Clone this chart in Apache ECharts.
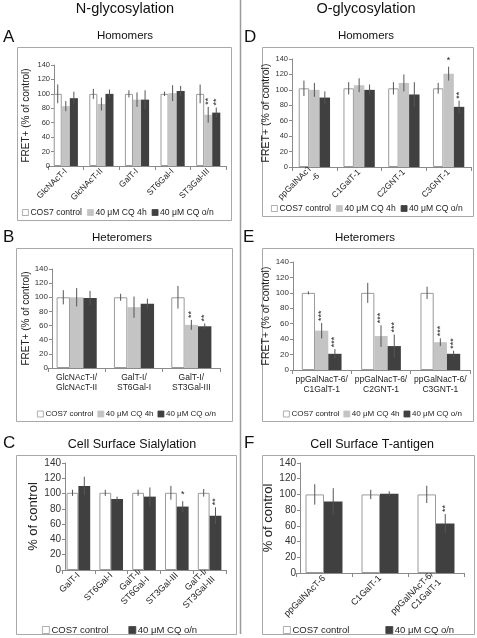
<!DOCTYPE html>
<html><head><meta charset="utf-8">
<script src="https://cdn.jsdelivr.net/npm/echarts@6/dist/echarts.min.js"></script>
<style>html,body{margin:0;padding:0;background:#fff}#c{width:477px;height:638px}</style>
</head><body><div id="c"></div>
<script>
// ---------- DATA ----------
const yTicks = [0, 20, 40, 60, 80, 100, 120, 140];
const seriesNames = ['COS7 control', '40 μM CQ 4h', '40 μM CQ o/n'];

// Panel A: N-glycosylation homomers
const catsA = ['GlcNAcT-I', 'GlcNAcT-II', 'GalT-I', 'ST6Gal-I', 'ST3Gal-III'];
const ctrlA = [100, 100, 100, 100, 100];
const ctrlErrA = [13, 7, 5, 3, 13];
const h4A = [83, 86, 92, 101, 71];
const h4ErrA = [7, 9, 10, 11, 11];
const onA = [94, 100, 92, 104, 74];
const onErrA = [9, 6, 13, 7, 7];
const h4StarA = ['', '', '', '', '**'];
const onStarA = ['', '', '', '', '**'];

// Panel D: O-glycosylation homomers
const catsD = ['ppGalNAcT\n-6', 'C1GalT-1', 'C2GNT-1', 'C3GNT-1'];
const ctrlD = [102, 102, 102, 102];
const ctrlErrD = [10, 8, 8, 7];
const h4D = [100, 106, 109, 121];
const h4ErrD = [9, 9, 11, 9];
const onD = [90, 100, 94, 78];
const onErrD = [8, 7, 16, 8];
const h4StarD = ['', '', '', '*'];
const onStarD = ['', '', '', '**'];

// Panel B: N-glycosylation heteromers
const catsB = ['GlcNAcT-I/\nGlcNAcT-II', 'GalT-I/\nST6Gal-I', 'GalT-I/\nST3Gal-III'];
const ctrlB = [100, 100, 100];
const ctrlErrB = [10, 5, 16];
const h4B = [100, 86, 61];
const h4ErrB = [13, 15, 7];
const onB = [99, 91, 59];
const onErrB = [10, 7, 4];
const h4StarB = ['', '', '**'];
const onStarB = ['', '', '**'];

// Panel E: O-glycosylation heteromers
const catsE = ['ppGalNacT-6/\nC1GalT-1', 'ppGalNacT-6/\nC2GNT-1', 'ppGalNacT-6/\nC3GNT-1'];
const ctrlE = [100, 100, 100];
const ctrlErrE = [2, 13, 8];
const h4E = [51, 44, 36];
const h4ErrE = [10, 14, 5];
const onE = [21, 31, 21];
const onErrE = [6, 15, 4];
const h4StarE = ['***', '***', '***'];
const onStarE = ['***', '***', '***'];

// Panel C: Cell surface sialylation
const catsC = ['GalT-I', 'ST6Gal-I', 'GalT-I/\nST6Gal-I', 'ST3Gal-III', 'GalT-I/\nST3Gal-III'];
const ctrlC = [101, 101, 101, 101, 101];
const ctrlErrC = [4, 4, 4, 9, 5];
const onC = [110, 93, 96, 83, 71];
const onErrC = [12, 3, 12, 7, 11];
const onStarC = ['', '', '', '*', '**'];

// Panel F: Cell surface T-antigen
const catsF = ['ppGalNAcT-6', 'C1GalT-1', 'ppGalNAcT-6/\nC1GalT-1'];
const ctrlF = [100, 100, 100];
const ctrlErrF = [13, 6, 11];
const onF = [91, 101, 63];
const onErrF = [17, 3, 12];
const onStarF = ['', '', '**'];

// ---------- STYLE ----------
const FONT = 'Liberation Sans, Arial, sans-serif';
const COLORS = { ctrl: '#ffffff', h4: '#c4c4c4', on: '#404040' };
const emptyStars = n => new Array(n).fill('');

const panels = [
  { cats: catsA, grid: { left: 48, top: 65, width: 178, height: 101 }, yOff: -6, gap: 0.32,
    tickFs: 7.5, catFs: 8.5, rotate: 45, nameFs: 10, nameGap: 23, yName: 'FRET+ (% of control)',
    ser: [[ctrlA, ctrlErrA, emptyStars(5), 'ctrl'], [h4A, h4ErrA, h4StarA, 'h4'], [onA, onErrA, onStarA, 'on']] },
  { cats: catsD, grid: { left: 292, top: 59, width: 179, height: 108 }, yOff: 0, gap: 0.3,
    tickFs: 7.5, catFs: 8.5, rotate: 45, nameFs: 10.5, nameGap: 18, yName: 'FRET+ (% of control)',
    ser: [[ctrlD, ctrlErrD, emptyStars(4), 'ctrl'], [h4D, h4ErrD, h4StarD, 'h4'], [onD, onErrD, onStarD, 'on']] },
  { cats: catsB, grid: { left: 48, top: 269, width: 172, height: 99 }, yOff: -4, gap: 0.3,
    tickFs: 8, catFs: 8.5, rotate: 0, nameFs: 10, nameGap: 21, yName: 'FRET+ (% of control)',
    ser: [[ctrlB, ctrlErrB, emptyStars(3), 'ctrl'], [h4B, h4ErrB, h4StarB, 'h4'], [onB, onErrB, onStarB, 'on']] },
  { cats: catsE, grid: { left: 292, top: 262, width: 178, height: 108 }, yOff: -1, gap: 0.33,
    tickFs: 8, catFs: 8.5, rotate: 0, nameFs: 10.5, nameGap: 20, yName: 'FRET+ (% of control)',
    ser: [[ctrlE, ctrlErrE, emptyStars(3), 'ctrl'], [h4E, h4ErrE, h4StarE, 'h4'], [onE, onErrE, onStarE, 'on']] },
  { cats: catsC, grid: { left: 62, top: 463, width: 164, height: 107 }, yOff: -3, gap: 0.28,
    tickFs: 10, catFs: 9, rotate: 45, nameFs: 13, nameGap: 22, yName: '% of control',
    ser: [[ctrlC, ctrlErrC, emptyStars(5), 'ctrl'], [onC, onErrC, onStarC, 'on']] },
  { cats: catsF, grid: { left: 296, top: 463, width: 168, height: 110 }, yOff: -4, gap: 0.34,
    tickFs: 10, catFs: 9, rotate: 45, nameFs: 13, nameGap: 21, yName: '% of control',
    ser: [[ctrlF, ctrlErrF, emptyStars(3), 'ctrl'], [onF, onErrF, onStarF, 'on']] }
];
const nameOf = { ctrl: seriesNames[0], h4: seriesNames[1], on: seriesNames[2] };

const grids = [], xAxes = [], yAxes = [], series = [];
panels.forEach((p, gi) => {
  grids.push(Object.assign({ containLabel: false, outerBoundsMode: 'none' }, p.grid));
  xAxes.push({
    type: 'category', gridIndex: gi, data: p.cats,
    axisLine: { lineStyle: { color: '#8a8a8a', width: 1 } },
    axisTick: { show: true, length: 4, lineStyle: { color: '#8a8a8a' } },
    axisLabel: { fontFamily: FONT, fontSize: p.catFs, color: '#222', rotate: p.rotate, margin: 4,
      interval: 0, lineHeight: p.catFs + 2, hideOverlap: false }
  });
  yAxes.push({
    type: 'value', gridIndex: gi, min: 0, max: 140, interval: 20, offset: p.yOff,
    name: p.yName, nameLocation: 'middle', nameGap: p.nameGap,
    nameTextStyle: { fontFamily: FONT, fontSize: p.nameFs, color: '#222' },
    splitLine: { show: false },
    axisLine: { show: true, lineStyle: { color: '#8a8a8a', width: 1 } },
    axisTick: { show: true, length: 3, lineStyle: { color: '#8a8a8a' } },
    axisLabel: { fontFamily: FONT, fontSize: p.tickFs, color: '#333', margin: 4,
      formatter: v => (yTicks.indexOf(v) >= 0 ? String(v) : '') }
  });
  const n = p.ser.length;
  p.ser.forEach((s, k) => {
    const key = s[3];
    series.push({
      type: 'bar', name: nameOf[key], xAxisIndex: gi, yAxisIndex: gi,
      data: s[0], barGap: '0%', barCategoryGap: (p.gap * 100) + '%',
      itemStyle: { color: COLORS[key], borderColor: key === 'ctrl' ? '#9a9a9a' : COLORS[key], borderWidth: key === 'ctrl' ? 1 : 0 },
      emphasis: { disabled: true }, silent: true, z: 2
    });
    const vals = s[0], errs = s[1], stars = s[2];
    series.push({
      type: 'custom', name: 'err' + gi + '_' + k, xAxisIndex: gi, yAxisIndex: gi, silent: true, z: 5,
      data: vals.map((v, i) => [i, v, errs[i]]),
      renderItem: (params, api) => {
        const i = api.value(0), v = api.value(1), e = api.value(2);
        const band = api.size([1, 0])[0];
        const bw = band * (1 - p.gap) / n;
        const x = api.coord([i, v])[0] - n * bw / 2 + (k + 0.5) * bw;
        const yt = api.coord([i, v + e])[1];
        const yb = api.coord([i, v - e])[1];
        const children = [{
          type: 'line', shape: { x1: x, y1: yt, x2: x, y2: yb },
          style: { stroke: '#555', lineWidth: 1 }
        }];
        const st = stars[params.dataIndex];
        if (st) {
          if (st.length === 1) {
            children.push({ type: 'text', x: x, y: yt - 2,
              style: { text: st, fontFamily: FONT, fontSize: 9, fill: '#222', align: 'center', verticalAlign: 'bottom' } });
          } else {
            children.push({ type: 'text', x: x, y: yt - 2, rotation: Math.PI / 2,
              style: { text: st, fontFamily: FONT, fontSize: 9, fill: '#222', align: 'left', verticalAlign: 'middle' } });
          }
        }
        return { type: 'group', children: children };
      }
    });
  });
});

const legendBase = (extra, fs) => Object.assign({
  orient: 'horizontal', selectedMode: false, icon: 'rect', itemWidth: 6, itemHeight: 6,
  padding: 0, itemStyle: { borderWidth: 0.8, borderColor: 'inherit' },
  textStyle: { fontFamily: FONT, fontSize: fs, color: '#222', padding: [0, 0, 0, -3] }
}, extra);

const legends = [
  legendBase({ left: 22, top: 208, itemGap: 5, data: seriesNames }, 8.6),
  legendBase({ left: 271, top: 204, itemGap: 5, data: seriesNames }, 8.6),
  legendBase({ left: 37, top: 410, itemGap: 4, data: seriesNames }, 8),
  legendBase({ left: 283, top: 410, itemGap: 4, data: seriesNames }, 8),
  legendBase({ left: 42, top: 625, itemGap: 20, itemWidth: 7, itemHeight: 7, data: [seriesNames[0], seriesNames[2]] }, 9.5),
  legendBase({ left: 283, top: 625, itemGap: 36, itemWidth: 7, itemHeight: 7, data: [seriesNames[0], seriesNames[2]] }, 9.5)
];

const txt = (t, x, y, fs, align) => ({ type: 'text', x: x, y: y, silent: true,
  style: { text: t, fontFamily: FONT, fontSize: fs, fill: '#111', align: align || 'center', verticalAlign: 'middle' } });
const box = (x1, y1, x2, y2) => ({ type: 'rect', silent: true, z: -1,
  shape: { x: x1 + 0.5, y: y1 + 0.5, width: x2 - x1, height: y2 - y1 },
  style: { fill: 'none', stroke: '#a8a8a8', lineWidth: 1 } });

const graphics = [
  { type: 'line', silent: true, shape: { x1: 240.5, y1: 0, x2: 240.5, y2: 634 }, style: { stroke: '#9a9a9a', lineWidth: 1.5 } },
  txt('N-glycosylation', 125, 9, 14.5), txt('O-glycosylation', 366, 9, 14.5),
  txt('A', 3, 37, 17, 'left'), txt('Homomers', 125, 36, 11.5),
  txt('D', 244, 37, 17, 'left'), txt('Homomers', 366, 36, 11.5),
  txt('B', 3, 237, 17, 'left'), txt('Heteromers', 122, 238, 11.5),
  txt('E', 243, 237, 17, 'left'), txt('Heteromers', 365, 238, 11.5),
  txt('C', 3, 443, 17, 'left'), txt('Cell Surface Sialylation', 132, 445, 12.5),
  txt('F', 244, 443, 17, 'left'), txt('Cell Surface T-antigen', 372, 445, 12.5),
  box(17, 47, 231, 220), box(262, 47, 473, 216),
  box(16, 248, 232, 421), box(262, 248, 473, 421),
  box(16, 455, 236, 634), box(262, 455, 474, 634)
];

const chart = echarts.init(document.getElementById('c'), null, { renderer: 'canvas' });
chart.setOption({
  backgroundColor: '#ffffff', animation: false,
  grid: grids, xAxis: xAxes, yAxis: yAxes, series: series,
  legend: legends, graphic: graphics, tooltip: { show: false }
});
</script></body></html>
